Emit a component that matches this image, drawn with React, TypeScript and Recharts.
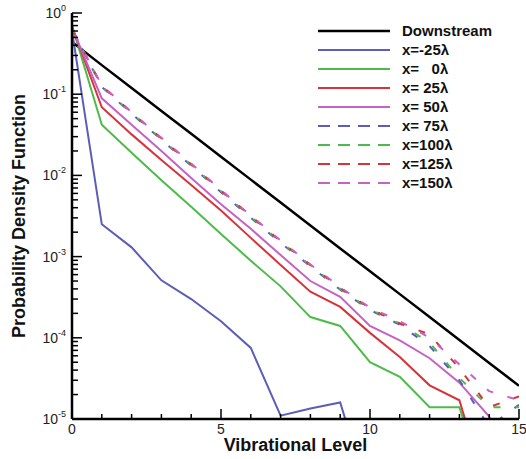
import { Legend, Line, LineChart, XAxis, YAxis } from "recharts";

const FONT = "'Liberation Sans', Arial, Helvetica, sans-serif";

// vibrational levels
const LEVELS = [0, 1, 2, 3, 4, 5, 6, 7, 8, 9, 10, 11, 12, 13, 14, 15];

// probability density values, one per level (null = not drawn)
const DOWNSTREAM = [0.44, 0.228, 0.119, 0.0622, 0.0325, 0.017, 0.00887, 0.00463, 0.00242, 0.00126, 6.6e-4, 3.45e-4, 1.8e-4, 9.4e-5, 4.9e-5, 2.57e-5];
const X_M25 = [0.6, 2.5e-3, 1.3e-3, 5.1e-4, 3.0e-4, 1.6e-4, 7.5e-5, 1.1e-5, 1.35e-5, 1.6e-5, 1e-6, null, null, null, null, null];
const X_0 = [0.7, 0.042, 0.019, 0.0087, 0.0041, 0.0019, 8.9e-4, 4.3e-4, 1.8e-4, 1.4e-4, 5e-5, 3.3e-5, 1.4e-5, 1.4e-5, 1e-6, null];
const X_25 = [0.68, 0.069, 0.032, 0.0155, 0.0076, 0.0037, 0.0017, 7.9e-4, 3.7e-4, 2.4e-4, 1.15e-4, 5.8e-5, 2.6e-5, 1.7e-5, 1e-6, null];
const X_50 = [0.66, 0.089, 0.042, 0.02, 0.0093, 0.0044, 0.0022, 0.00105, 5e-4, 3.2e-4, 1.4e-4, 9.3e-5, 5.6e-5, 2.8e-5, 1.07e-5, 1e-6];
const X_75 = [0.63, 0.123, 0.0575, 0.0275, 0.0132, 0.0062, 0.003, 0.00148, 7.6e-4, 3.9e-4, 2.2e-4, 1.45e-4, 7.9e-5, 3.0e-5, 8e-6, 1.5e-5];
const X_100 = [0.63, 0.125, 0.0585, 0.028, 0.0135, 0.0064, 0.0031, 0.00152, 7.8e-4, 4.0e-4, 2.25e-4, 1.5e-4, 8.7e-5, 3.2e-5, 1.4e-5, 1.4e-5];
const X_125 = [0.63, 0.127, 0.0595, 0.0285, 0.0137, 0.0065, 0.00315, 0.00155, 7.9e-4, 4.1e-4, 2.3e-4, 1.5e-4, 1.1e-4, 4.2e-5, 1.4e-5, 1.9e-5];
const X_150 = [0.63, 0.129, 0.06, 0.029, 0.014, 0.0066, 0.0032, 0.00158, 8.0e-4, 4.2e-4, 2.35e-4, 1.6e-4, 1.0e-4, 4.7e-5, 2.2e-5, 1.7e-5];

const X_TICKS = LEVELS;
const X_LABELS = [0, 5, 10, 15];
const Y_DECADES = [-5, -4, -3, -2, -1, 0];

const Y_TICKS: number[] = [];
Y_DECADES.forEach((d) => {
  if (d === 0) {
    Y_TICKS.push(1);
    return;
  }
  for (let m = 1; m <= 9; m++) Y_TICKS.push(Number((m * Math.pow(10, d)).toPrecision(3)));
});

const SERIES = [
  { key: "downstream", name: "Downstream", values: DOWNSTREAM, color: "#000000", dash: undefined, offset: 0, width: 2.5 },
  { key: "m25", name: "x=-25λ", values: X_M25, color: "#5a5eb8", dash: undefined, offset: 0, width: 2 },
  { key: "p0", name: "x=   0λ", values: X_0, color: "#4dbb4a", dash: undefined, offset: 0, width: 2 },
  { key: "p25", name: "x= 25λ", values: X_25, color: "#d5343a", dash: undefined, offset: 0, width: 2 },
  { key: "p50", name: "x= 50λ", values: X_50, color: "#c462c6", dash: undefined, offset: 0, width: 2 },
  { key: "p75", name: "x= 75λ", values: X_75, color: "#5a5eb8", dash: "7 15", offset: 0, width: 2 },
  { key: "p100", name: "x=100λ", values: X_100, color: "#4dbb4a", dash: "7 15", offset: -2, width: 2 },
  { key: "p125", name: "x=125λ", values: X_125, color: "#d5343a", dash: "7 15", offset: -4, width: 2 },
  { key: "p150", name: "x=150λ", values: X_150, color: "#c462c6", dash: "7 15", offset: -6, width: 2 },
];

const data = LEVELS.map((v, i) => {
  const row: Record<string, number | null> = { v };
  SERIES.forEach((s) => {
    row[s.key] = s.values[i];
  });
  return row;
});

const YTick = (props: any) => {
  const { x, y, payload } = props;
  const lg = Math.log10(payload.value);
  const major = Math.abs(lg - Math.round(lg)) < 1e-6;
  return (
    <g>
      <line x1={x} x2={x + (major ? 10 : 6)} y1={y} y2={y} stroke="#000" strokeWidth={1.5} />
      {major && (
        <text x={x - 6} y={y + 5} textAnchor="end" fontFamily={FONT} fontSize={14} fill="#222">
          10
          <tspan dy={-7} fontSize={9}>
            {Math.round(lg)}
          </tspan>
        </text>
      )}
    </g>
  );
};

const XTick = (props: any) => {
  const { x, y, payload } = props;
  const major = X_LABELS.includes(payload.value);
  return (
    <g>
      <line x1={x} x2={x} y1={y} y2={y - (major ? 10 : 5)} stroke="#000" strokeWidth={1.5} />
      {major && (
        <text x={x} y={y + 15} textAnchor="middle" fontFamily={FONT} fontSize={14} fill="#222">
          {payload.value}
        </text>
      )}
    </g>
  );
};

const LegendBox = () => (
  <svg width={210} height={180}>
    {SERIES.map((s, i) => {
      const cy = 11 + i * 19;
      return (
        <g key={s.key}>
          <line x1={6} x2={78} y1={cy} y2={cy} stroke={s.color} strokeWidth={s.width} strokeDasharray={s.dash ? "12 8" : undefined} />
          <text x={90} y={cy + 5} fontFamily={FONT} fontSize={15} fontWeight="bold" fill="#111" style={{ whiteSpace: "pre" }}>
            {s.name}
          </text>
        </g>
      );
    })}
  </svg>
);

export default function App() {
  return (
    <div style={{ position: "absolute", left: 0, top: 0, background: "#fff" }}>
      <LineChart width={526} height={459} data={data} margin={{ top: 13, right: 7, bottom: 0, left: 0 }}>
        <XAxis
          dataKey="v"
          type="number"
          domain={[0, 15]}
          ticks={X_TICKS}
          interval={0}
          height={40}
          tickSize={0}
          tickMargin={0}
          tickLine={false}
          tick={<XTick />}
          axisLine={{ stroke: "#000", strokeWidth: 2.5 }}
          allowDataOverflow
          label={{
            content: ({ viewBox }: any) => (
              <text x={viewBox.x + viewBox.width / 2} y={viewBox.y + 32} textAnchor="middle" fontFamily={FONT} fontSize={18} fontWeight="bold" fill="#111">
                Vibrational Level
              </text>
            ),
          }}
        />
        <YAxis
          type="number"
          scale="log"
          domain={[1e-5, 1]}
          ticks={Y_TICKS}
          interval={0}
          width={72}
          tickSize={0}
          tickMargin={0}
          tickLine={false}
          tick={<YTick />}
          axisLine={{ stroke: "#000", strokeWidth: 2.5 }}
          allowDataOverflow
          label={{
            content: ({ viewBox }: any) => {
              const cy = viewBox.y + viewBox.height / 2;
              return (
                <text x={25} y={cy} transform={`rotate(-90, 25, ${cy})`} textAnchor="middle" fontFamily={FONT} fontSize={18} fontWeight="bold" fill="#111">
                  Probability Density Function
                </text>
              );
            },
          }}
        />
        {SERIES.map((s) => (
          <Line
            key={s.key}
            dataKey={s.key}
            name={s.name}
            type="linear"
            stroke={s.color}
            strokeWidth={s.width}
            strokeDasharray={s.dash}
            strokeDashoffset={s.offset}
            dot={false}
            activeDot={false}
            isAnimationActive={false}
          />
        ))}
        <Legend
          layout="horizontal"
          verticalAlign="middle"
          align="center"
          content={<LegendBox />}
          wrapperStyle={{ position: "absolute", left: 312, top: 20, width: 210, height: 180 }}
        />
      </LineChart>
    </div>
  );
}
